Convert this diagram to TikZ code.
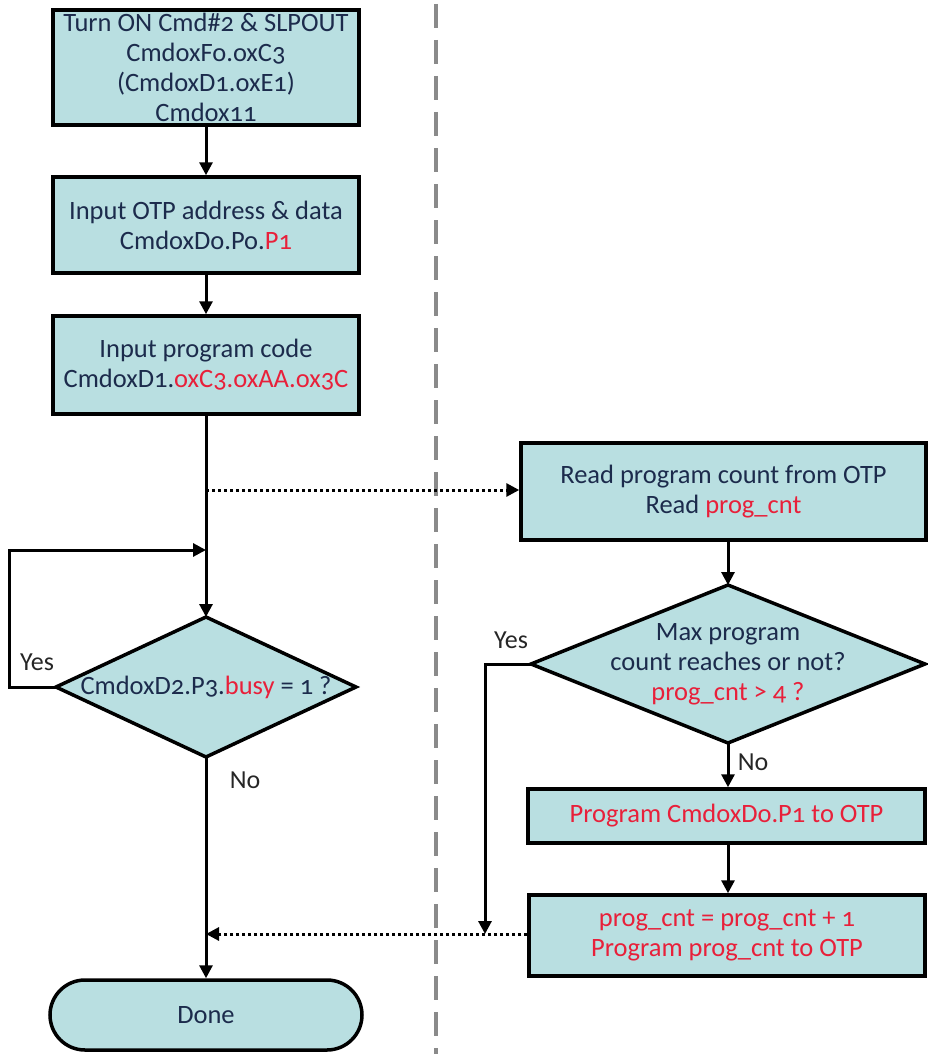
\documentclass[tikz,border=0pt]{standalone}
\usepackage{fontspec}
\setmainfont[Numbers=OldStyle]{Carlito}
\usetikzlibrary{arrows.meta,shapes.geometric}
\definecolor{boxfill}{HTML}{B9DFE1}
\definecolor{navy}{HTML}{1C2B4C}
\definecolor{redtxt}{HTML}{E8203A}
\definecolor{divider}{HTML}{8A8A8A}
\newcommand{\rd}[1]{\textcolor{redtxt}{#1}}
\begin{document}
\begin{tikzpicture}[x=1pt,y=-1pt,
  every node/.style={font=\fontsize{26.5}{30}\selectfont, text=navy},
  procbox/.style={draw=black, line width=3.5pt, fill=boxfill, rectangle, align=center, inner sep=0pt},
  decbox/.style={draw=black, line width=3.5pt, fill=boxfill, diamond, inner sep=0pt, outer sep=0pt},
  dectext/.style={align=center, inner sep=0pt},
  termbox/.style={draw=black, line width=3.5pt, fill=boxfill, rectangle, rounded corners=35pt, align=center, inner sep=0pt},
  flow/.style={line width=3pt, -{Triangle[length=13pt,width=13pt]}},
  dotflow/.style={line width=3pt, dash pattern=on 3pt off 3pt, -{Triangle[length=13pt,width=13pt]}},
  lbl/.style={font=\fontsize{26}{30}\selectfont, text=black!85}
]
\useasboundingbox (0,0) rectangle (927,1054);
\draw[divider, line width=4.5pt, dash pattern=on 24pt off 12pt] (436,4) -- (436,1054);

\node[procbox, minimum width=306pt, minimum height=115pt] (b1) at (206,67.5)
  {Turn ON Cmd\#2 \& SLPOUT\\CmdoxFo.oxC3\\(CmdoxD1.oxE1)\\Cmdox11};
\node[procbox, minimum width=306pt, minimum height=96pt] (b2) at (206,225)
  {Input OTP address \& data\\CmdoxDo.Po.\rd{P1}};
\node[procbox, minimum width=306pt, minimum height=98pt] (b3) at (206,365)
  {Input program code\\CmdoxD1.\rd{oxC3.oxAA.ox3C}};
\node[decbox, minimum width=300pt, minimum height=140pt] (d1) at (206,687) {};
\node[dectext] (d1t) at (d1.center) {CmdoxD2.P3.\rd{busy} = 1 ?};
\node[termbox, minimum width=312pt, minimum height=70pt] (done) at (206,1015) {Done};

\node[procbox, minimum width=405pt, minimum height=97pt] (r1) at (723.5,491.5)
  {Read program count from OTP\\Read \rd{prog\_cnt}};
\node[decbox, minimum width=394pt, minimum height=158pt] (d2) at (728,664) {};
\node[dectext] (d2t) at (d2.center)
  {Max program\\count reaches or not?\\\rd{prog\_cnt > 4 ?}};
\node[procbox, minimum width=397pt, minimum height=54pt, text=redtxt] (r2) at (726.5,816)
  {Program CmdoxDo.P1 to OTP};
\node[procbox, minimum width=396pt, minimum height=81pt, text=redtxt] (r3) at (727,935.5)
  {prog\_cnt = prog\_cnt + 1\\Program prog\_cnt to OTP};

\coordinate (j1) at (206,490);
\coordinate (j2) at (206,550);
\coordinate (yl) at (9,687);
\coordinate (yt) at (9,550);
\coordinate (j4) at (206,934);
\coordinate (yr) at (485,664);
\coordinate (j3) at (485,934);

\draw[flow] (b1) -- (b2);
\draw[flow] (b2) -- (b3);
\draw[flow] (b3) -- (d1);
\draw[dotflow] (j1) -- (r1.west |- j1);
\draw[flow] (d1.west) -- (yl) -- (yt) -- (j2);
\draw[flow] (d1) -- (done);
\draw[flow] (d2.north |- r1.south) -- (d2.north);
\draw[flow] (d2.south) -- (d2.south |- r2.north);
\draw[flow] (r2.south -| d2.south) -- (r3.north -| d2.south);
\draw[flow] (d2.west) -- (yr) -- (j3);
\draw[dotflow] (r3.west |- j4) -- (j4);

\node[lbl] (ly1) at (37,662) {Yes};
\node[lbl] (ln1) at (245,780) {No};
\node[lbl] (ly2) at (511,640) {Yes};
\node[lbl] (ln2) at (753,762) {No};
\end{tikzpicture}
\end{document}
